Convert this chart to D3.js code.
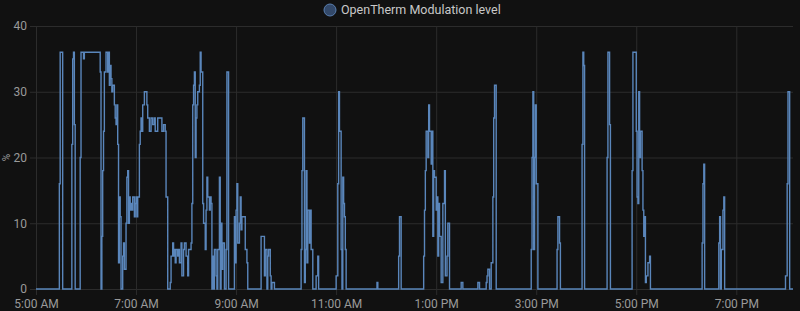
<html>
<head>
<meta charset="utf-8">
<style>
    html, body {
        margin: 0;
        background-color: #111111;
    }
    svg text {
        font-family: Roboto, 'Noto Sans', sans-serif;
    }
    .grid line {
        stroke: #2c2c2c;
    }
    .grid .domain {
        display: none;
    }
    .tick text {
        fill: #9a9a9a;
        font-size: 12px;
    }
</style>
</head>
<body>
<svg width="800" height="311"></svg>
<script src="https://d3js.org/d3.v7.min.js"></script>
<script>
    // modulation level, step data (time of change, new value)
    var times = [
        '05:00', '05:28', '05:29', '05:32', '05:43', '05:44', '05:45', '05:46', '05:47', '05:53',
        '05:54', '05:57', '05:58', '06:17', '06:18', '06:19', '06:20', '06:21', '06:22', '06:24',
        '06:26', '06:27', '06:28', '06:29', '06:30', '06:31', '06:32', '06:34', '06:35', '06:36',
        '06:37', '06:38', '06:39', '06:40', '06:41', '06:42', '06:44', '06:45', '06:46', '06:48',
        '06:49', '06:50', '06:51', '06:52', '06:53', '06:54', '06:55', '06:56', '06:58', '06:59',
        '07:00', '07:01', '07:02', '07:04', '07:05', '07:06', '07:07', '07:08', '07:10', '07:13',
        '07:14', '07:16', '07:18', '07:20', '07:22', '07:23', '07:26', '07:31', '07:33', '07:35',
        '07:36', '07:38', '07:41', '07:42', '07:44', '07:45', '07:46', '07:47', '07:48', '07:50',
        '07:51', '07:52', '07:54', '07:55', '07:57', '07:58', '08:00', '08:02', '08:03', '08:06',
        '08:07', '08:08', '08:09', '08:10', '08:11', '08:12', '08:13', '08:14', '08:16', '08:17',
        '08:18', '08:20', '08:21', '08:23', '08:24', '08:25', '08:26', '08:28', '08:29', '08:30',
        '08:31', '08:32', '08:33', '08:34', '08:36', '08:37', '08:38', '08:40', '08:41', '08:42',
        '08:43', '08:44', '08:46', '08:48', '08:49', '08:51', '08:58', '08:59', '09:00', '09:01',
        '09:02', '09:04', '09:05', '09:06', '09:07', '09:11', '09:13', '09:14', '09:30', '09:34',
        '09:35', '09:37', '09:38', '09:39', '09:41', '09:42', '09:43', '09:46',
        '10:18', '10:19', '10:20', '10:22', '10:23', '10:24', '10:25', '10:26', '10:28', '10:29',
        '10:30', '10:32', '10:36', '10:38', '10:39',
        '11:00', '11:02', '11:03', '11:04', '11:06', '11:07', '11:08', '11:09', '11:10', '11:11',
        '11:12', '11:49', '11:50', '12:15', '12:16', '12:18',
        '12:45', '12:46', '12:47', '12:48', '12:50', '12:51', '12:52', '12:54', '12:55', '12:56',
        '12:57', '12:58', '13:00', '13:01', '13:02', '13:03', '13:04', '13:06', '13:08', '13:10',
        '13:11', '13:13', '13:14', '13:16', '13:30', '13:32', '13:50', '13:52',
        '14:00', '14:01', '14:02', '14:04', '14:06', '14:08', '14:09', '14:10', '14:12',
        '14:54', '14:55', '14:56', '14:57', '14:58', '14:59', '15:00', '15:02',
        '15:25', '15:26', '15:28', '15:29', '15:55', '15:56', '15:57', '15:58',
        '16:25', '16:26', '16:28', '16:29',
        '16:55', '16:56', '17:00', '17:01', '17:02', '17:03', '17:04', '17:05', '17:07', '17:08',
        '17:09', '17:10', '17:11', '17:12', '17:14', '17:16', '17:17',
        '18:19', '18:20', '18:21', '18:22', '18:39', '18:40', '18:41', '18:42', '18:44', '18:45',
        '18:46', '19:59', '20:01', '20:02', '20:04', '20:08'
    ];
    var values = [
        0, 16, 36, 0, 22, 35, 36, 25, 0, 20,
        36, 35, 36, 33, 0, 8, 18, 24, 33, 36,
        33, 36, 31, 34, 32, 30, 31, 28, 26, 25,
        28, 22, 4, 14, 11, 0, 5, 7, 3, 10,
        17, 18, 10, 14, 12, 13, 12, 14, 11, 13,
        14, 11, 14, 22, 24, 26, 24, 28, 30, 28,
        26, 24, 26, 25, 26, 24, 26, 24, 25, 24,
        14, 0, 1, 5, 7, 5, 6, 4, 6, 5,
        6, 4, 7, 2, 6, 7, 5, 2, 6, 7,
        13, 28, 31, 33, 20, 26, 28, 30, 31, 36,
        33, 13, 10, 6, 12, 17, 14, 12, 14, 13,
        0, 5, 0, 6, 2, 0, 6, 17, 0, 10,
        3, 7, 0, 6, 33, 0, 11, 4, 12, 16,
        7, 10, 14, 9, 11, 6, 4, 0, 8, 2,
        6, 0, 5, 6, 2, 0, 1, 0,
        6, 18, 26, 1, 6, 18, 4, 12, 7, 12,
        6, 0, 2, 5, 0,
        2, 16, 30, 24, 6, 0, 17, 13, 11, 6,
        0, 1, 0, 5, 11, 0,
        5, 12, 18, 24, 20, 28, 24, 19, 24, 8,
        18, 17, 12, 14, 5, 13, 8, 1, 13, 18,
        2, 5, 10, 0, 1, 0, 1, 0,
        1, 2, 3, 0, 4, 14, 26, 31, 0,
        6, 20, 30, 6, 20, 28, 16, 0,
        6, 11, 7, 0, 22, 36, 34, 0,
        20, 36, 25, 0,
        18, 36, 24, 14, 13, 30, 20, 24, 18, 12,
        8, 11, 1, 2, 4, 5, 0,
        7, 16, 19, 0, 7, 11, 0, 6, 12, 14,
        0, 2, 16, 30, 0, 0
    ];
    var yTicks = [0, 10, 20, 30, 40];
    var xTickLabels = ['5:00 AM', '7:00 AM', '9:00 AM', '11:00 AM', '1:00 PM', '3:00 PM', '5:00 PM', '7:00 PM'];
    var xTickTimes = ['05:00', '07:00', '09:00', '11:00', '13:00', '15:00', '17:00', '19:00'];
    var seriesName = 'OpenTherm Modulation level';
    var unit = '%';

    var parseTime = d3.timeParse('%H:%M');
    var data = times.map(function (t, i) { return { t: parseTime(t), v: values[i] }; });

    var plotLeft = 36, plotRight = 793, plotTop = 26, plotBottom = 289;
    var svg = d3.select('svg');

    var x = d3.scaleTime()
        .domain([parseTime('05:00'), parseTime('20:08')])
        .range([plotLeft, plotRight]);
    var y = d3.scaleLinear()
        .domain([0, 40])
        .range([plotBottom, plotTop]);

    // horizontal grid + y labels
    svg.append('g')
        .attr('class', 'grid')
        .attr('transform', 'translate(' + plotRight + ',0)')
        .call(d3.axisLeft(y)
            .tickValues(yTicks)
            .tickSize(plotRight - plotLeft + 6)
            .tickPadding(3));

    // vertical grid + x labels
    svg.append('g')
        .attr('class', 'grid')
        .attr('transform', 'translate(0,' + plotTop + ')')
        .call(d3.axisBottom(x)
            .tickValues(xTickTimes.map(parseTime))
            .tickFormat(function (d, i) { return xTickLabels[i]; })
            .tickSize(plotBottom - plotTop + 6)
            .tickPadding(4));

    // unit label
    svg.append('text')
        .attr('transform', 'translate(10,' + ((plotTop + plotBottom) / 2) + ') rotate(-90)')
        .attr('text-anchor', 'middle')
        .attr('fill', '#9a9a9a')
        .style('font-size', '10px')
        .text(unit);

    // the step line
    var line = d3.line()
        .x(function (d) { return x(d.t); })
        .y(function (d) { return y(d.v); })
        .curve(d3.curveStepAfter);

    svg.append('path')
        .datum(data)
        .attr('fill', 'none')
        .attr('stroke', '#5a86bb')
        .attr('stroke-width', 1.4)
        .attr('d', line);

    // legend
    var legend = svg.append('g').attr('transform', 'translate(330,10)');
    legend.append('circle')
        .attr('r', 6)
        .attr('fill', '#33496a')
        .attr('stroke', '#5a7fb0')
        .attr('stroke-width', 1);
    legend.append('text')
        .attr('x', 11)
        .attr('dy', '0.35em')
        .attr('fill', '#c8c8c8')
        .style('font-size', '12.5px')
        .text(seriesName);
</script>
</body>
</html>
